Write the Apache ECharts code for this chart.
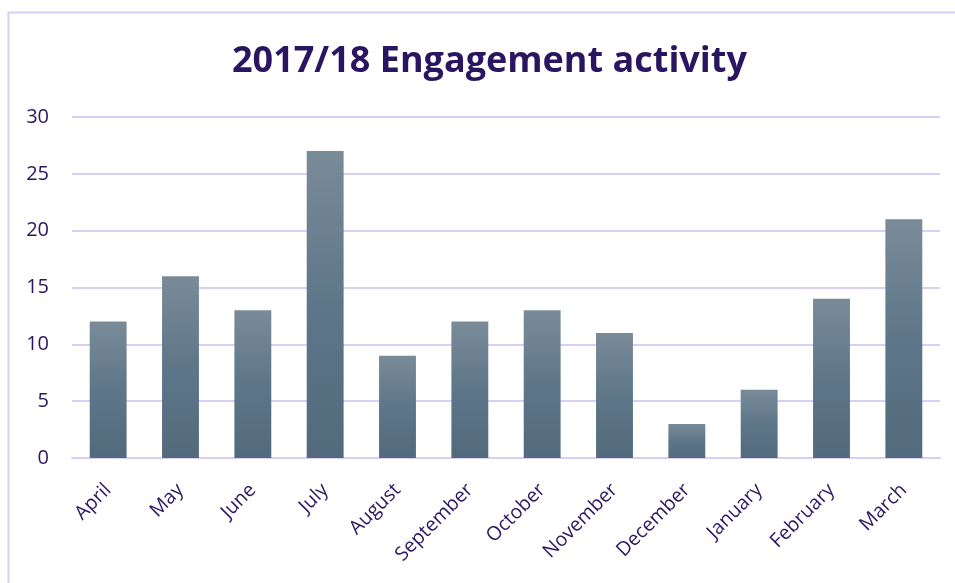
<!DOCTYPE html>
<html>
<head>
<meta charset="utf-8">
<script src="https://cdn.jsdelivr.net/npm/echarts@6/dist/echarts.min.js"></script>
<style>html,body{margin:0;padding:0;background:#fff}#c{width:955px;height:583px}</style>
</head>
<body>
<div id="c"></div>
<script>
const titleText = '2017/18 Engagement activity';
const categories = ['April','May','June','July','August','September','October','November','December','January','February','March'];
const values = [12,16,13,27,9,12,13,11,3,6,14,21];
const yTicks = {min:0, max:30, interval:5};

const chart = echarts.init(document.getElementById('c'), null, {renderer:'canvas'});
const textColor = '#2A1660';
const font = '"Open Sans", "Liberation Sans", sans-serif';
chart.setOption({
  animation:false,
  backgroundColor:'#fff',
  graphic:[{type:'rect', shape:{x:8.5,y:12.5,width:1000,height:700}, style:{fill:'none', stroke:'#D8D0F4', lineWidth:2}, silent:true}],
  title:{text:titleText, left:227, top:39, textStyle:{color:textColor, fontFamily:font, fontWeight:'bold', fontSize:36}},
  grid:{left:72, right:15, top:117, bottom:125},
  xAxis:{type:'category', data:categories,
    axisLine:{lineStyle:{color:'#D8D0F4', width:2}}, axisTick:{show:false},
    axisLabel:{rotate:45, color:textColor, fontFamily:font, fontSize:19.5, margin:29, interval:0}},
  yAxis:{type:'value', min:yTicks.min, max:yTicks.max, interval:yTicks.interval,
    axisLine:{show:false}, axisTick:{show:false},
    splitLine:{lineStyle:{color:'#D8D0F4', width:2}},
    axisLabel:{color:textColor, fontFamily:font, fontSize:20, margin:23}},
  series:[{type:'bar', data:values, barWidth:'51%',
    itemStyle:{color:new echarts.graphic.LinearGradient(0,0,0,1,[{offset:0,color:'#7A8B98'},{offset:0.5,color:'#5E7689'},{offset:1,color:'#536A7D'}])}}]
});
</script>
</body>
</html>
